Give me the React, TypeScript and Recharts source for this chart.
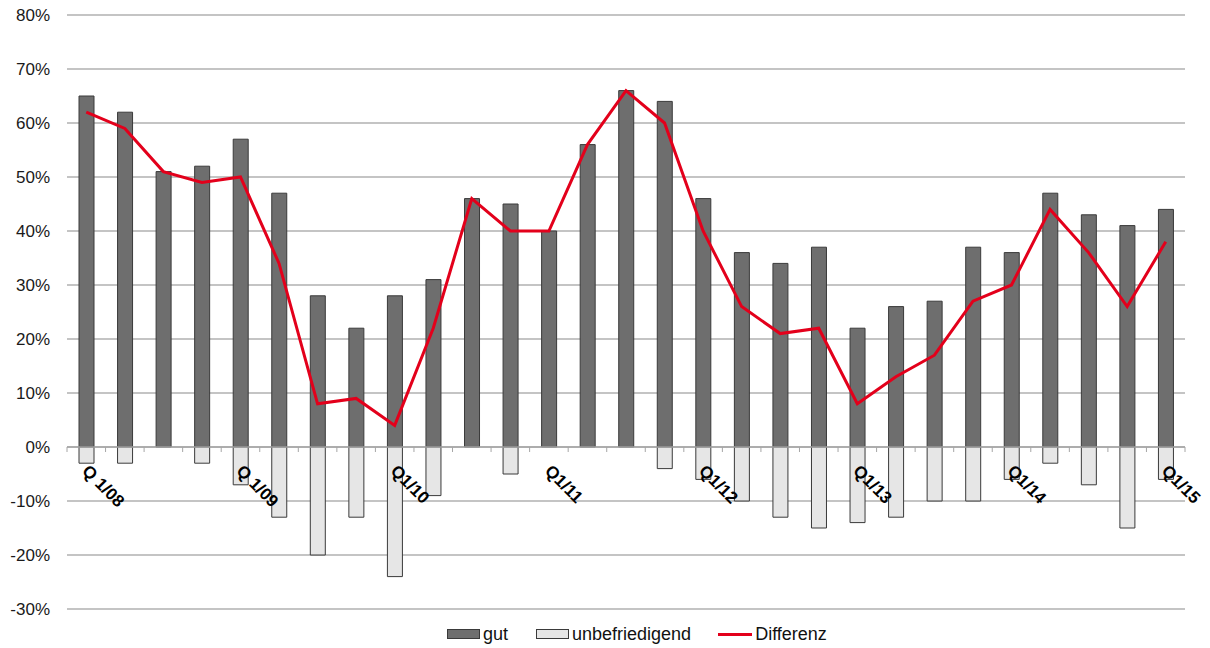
import React from 'react';
import {
  ComposedChart,
  Bar,
  Line,
  XAxis,
  YAxis,
  CartesianGrid,
  ReferenceLine,
  Legend,
} from 'recharts';

// Quarters Q1/08 .. Q1/15
const quarters = [
  'Q1/08', 'Q2/08', 'Q3/08', 'Q4/08',
  'Q1/09', 'Q2/09', 'Q3/09', 'Q4/09',
  'Q1/10', 'Q2/10', 'Q3/10', 'Q4/10',
  'Q1/11', 'Q2/11', 'Q3/11', 'Q4/11',
  'Q1/12', 'Q2/12', 'Q3/12', 'Q4/12',
  'Q1/13', 'Q2/13', 'Q3/13', 'Q4/13',
  'Q1/14', 'Q2/14', 'Q3/14', 'Q4/14',
  'Q1/15',
];

// Labels shown on the category axis (every fourth quarter)
const axisLabels = [
  'Q 1/08', '', '', '',
  'Q 1/09', '', '', '',
  'Q1/10', '', '', '',
  'Q1/11', '', '', '',
  'Q1/12', '', '', '',
  'Q1/13', '', '', '',
  'Q1/14', '', '', '',
  'Q1/15',
];

const gut = [
  65, 62, 51, 52, 57, 47, 28, 22, 28, 31, 46, 45, 40, 56, 66, 64,
  46, 36, 34, 37, 22, 26, 27, 37, 36, 47, 43, 41, 44,
];

const unbefriedigend = [
  -3, -3, 0, -3, -7, -13, -20, -13, -24, -9, 0, -5, 0, 0, 0, -4,
  -6, -10, -13, -15, -14, -13, -10, -10, -6, -3, -7, -15, -6,
];

const differenz = [
  62, 59, 51, 49, 50, 34, 8, 9, 4, 22, 46, 40, 40, 56, 66, 60,
  40, 26, 21, 22, 8, 13, 17, 27, 30, 44, 36, 26, 38,
];

const yTicks = [-30, -20, -10, 0, 10, 20, 30, 40, 50, 60, 70, 80];

const data = quarters.map((q, i) => ({
  q,
  label: axisLabels[i],
  gut: gut[i],
  unbefriedigend: unbefriedigend[i],
  differenz: differenz[i],
}));

const WIDTH = 1210;
const HEIGHT = 648;
const MARGIN = { top: 15, right: 25, left: 0, bottom: 38 };
const Y_AXIS_W = 67;
const X_AXIS_H = 1;
const PLOT_W = WIDTH - MARGIN.left - MARGIN.right - Y_AXIS_W;
const PLOT_H = HEIGHT - MARGIN.top - MARGIN.bottom - X_AXIS_H;
const Y_MIN = yTicks[0];
const Y_MAX = yTicks[yTicks.length - 1];
const ZERO_Y = MARGIN.top + (PLOT_H * Y_MAX) / (Y_MAX - Y_MIN);
const BAND = PLOT_W / quarters.length;

const FONT = '"Liberation Sans", Arial, Helvetica, sans-serif';
const DARK = '#6e6e6e';
const LIGHT = '#e6e6e6';
const EDGE = '#3a3a3a';
const RED = '#e3001b';

// Category tick: small marks between categories on the 0% line, rotated quarter labels
const QuarterTick = (props: any) => {
  const { x, payload, index } = props;
  const i = payload.index ?? index;
  const label = axisLabels[i];
  const left = x - BAND / 2;
  const isLast = i === quarters.length - 1;
  const lx = x - 5;
  const ly = ZERO_Y + 25;
  return (
    <g>
      <line x1={left} x2={left} y1={ZERO_Y} y2={ZERO_Y + 5} stroke="#a6a6a6" strokeWidth={1} />
      {isLast && (
        <line x1={left + BAND} x2={left + BAND} y1={ZERO_Y} y2={ZERO_Y + 5} stroke="#a6a6a6" strokeWidth={1} />
      )}
      {label && (
        <text
          x={lx}
          y={ly}
          transform={`rotate(45, ${lx}, ${ly})`}
          textAnchor="start"
          fontSize={17}
          fontWeight="bold"
          fontFamily={FONT}
          fill="#000"
        >
          {label}
        </text>
      )}
    </g>
  );
};

const swatch = (bg: string) => ({
  width: 33,
  height: 10,
  background: bg,
  border: `1px solid ${EDGE}`,
  boxSizing: 'border-box' as const,
  display: 'inline-block',
});

const LegendContent = () => (
  <div
    style={{
      display: 'flex',
      alignItems: 'center',
      fontFamily: FONT,
      fontSize: 18,
      color: '#111',
      lineHeight: '20px',
      whiteSpace: 'nowrap',
    }}
  >
    <span style={swatch(DARK)} />
    <span style={{ marginLeft: 3, marginRight: 28 }}>gut</span>
    <span style={swatch(LIGHT)} />
    <span style={{ marginLeft: 3, marginRight: 27 }}>unbefriedigend</span>
    <span style={{ width: 34, height: 3, background: RED, display: 'inline-block' }} />
    <span style={{ marginLeft: 3 }}>Differenz</span>
  </div>
);

export default function App() {
  return (
    <div style={{ position: 'absolute', left: 0, top: 0, width: WIDTH, height: HEIGHT, background: '#fff' }}>
      <ComposedChart
        width={WIDTH}
        height={HEIGHT}
        data={data}
        margin={MARGIN}
        stackOffset="sign"
        barSize={15}
      >
        <CartesianGrid vertical={false} stroke="#8a8a8a" strokeWidth={1.2} />
        <XAxis
          dataKey="q"
          height={X_AXIS_H}
          axisLine={false}
          tickLine={false}
          interval={0}
          tick={<QuarterTick />}
        />
        <YAxis
          width={Y_AXIS_W}
          domain={[Y_MIN, Y_MAX]}
          ticks={yTicks}
          allowDataOverflow
          axisLine={false}
          tickLine={false}
          tickSize={0}
          tickMargin={17}
          tickFormatter={(v: number) => `${v}%`}
          tick={{ fontSize: 17, fontFamily: FONT, fill: '#1a1a1a' }}
        />
        <Bar dataKey="gut" stackId="s" fill={DARK} stroke={EDGE} strokeWidth={1} isAnimationActive={false} />
        <Bar dataKey="unbefriedigend" stackId="s" fill={LIGHT} stroke={EDGE} strokeWidth={1} isAnimationActive={false} />
        <ReferenceLine y={0} stroke="#a6a6a6" strokeWidth={1.5} />
        <Line
          dataKey="differenz"
          type="linear"
          stroke={RED}
          strokeWidth={3}
          dot={false}
          activeDot={false}
          isAnimationActive={false}
        />
        <Legend
          layout="horizontal"
          verticalAlign="middle"
          content={<LegendContent />}
          wrapperStyle={{ position: 'absolute', top: 624, left: 447, width: 'auto', height: 20 }}
        />
      </ComposedChart>
    </div>
  );
}
